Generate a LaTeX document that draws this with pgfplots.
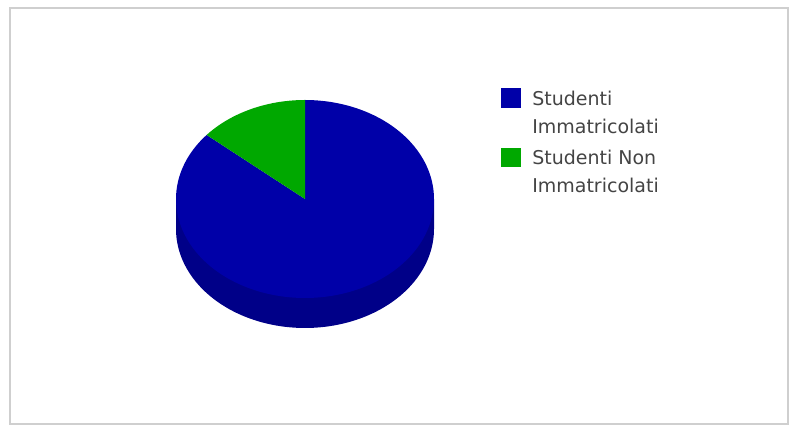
\documentclass[border=0pt]{standalone}
\usepackage{pgfplots}
\pgfplotsset{compat=1.18}
\usepackage{pgfplotstable}
\usepackage{fontspec}
\setmainfont{DejaVu Sans}
\definecolor{topblue}{HTML}{0000A8}
\definecolor{sideblue}{HTML}{000088}
\definecolor{sgreen}{HTML}{00A800}
\definecolor{txt}{HTML}{444444}
\definecolor{framec}{HTML}{CFCFCF}
\pgfplotstableread{
label value
Immatricolati 86.2
NonImmatricolati 13.8
}\piedata
\begin{document}
\begin{tikzpicture}
\pgfplotstablegetelem{0}{value}\of\piedata \let\va\pgfplotsretval
\pgfplotstablegetelem{1}{value}\of\piedata \let\vb\pgfplotsretval
\pgfmathsetmacro\angB{90+360*\vb/(\va+\vb)}
\begin{axis}[scale only axis, width=597.75pt, height=321pt,
  xmin=0, xmax=797, ymin=0, ymax=428, hide axis, clip=false]
% frame
\draw[framec, line width=1.2pt] (axis cs:10,420) rectangle (axis cs:788,4);
\path (axis cs:0,0) rectangle (axis cs:797,428);
% side of the pie (front part of the large slice)
\addplot[fill=sideblue, draw=none, domain=180:360, samples=120]
  ({305+129*cos(x)},{199+99*sin(x)}) -- (axis cs:434,229) -- (axis cs:176,229) -- cycle;
% top faces
\addplot[fill=topblue, draw=none, domain=\angB:450, samples=160]
  ({305+129*cos(x)},{229+99*sin(x)}) -- (axis cs:305,229) -- cycle;
\addplot[fill=sgreen, draw=none, domain=90:\angB, samples=40]
  ({305+129*cos(x)},{229+99*sin(x)}) -- (axis cs:305,229) -- cycle;
% legend
\fill[topblue] (axis cs:501,320) rectangle (axis cs:521,339.5);
\fill[sgreen] (axis cs:501,260.7) rectangle (axis cs:521,280);
\begin{scope}[every node/.style={anchor=base west, inner sep=0pt, text=txt, font=\fontsize{14.25}{17}\selectfont}]
\node at (axis cs:532,322) {Studenti};
\node at (axis cs:532,294) {Immatricolati};
\node at (axis cs:532,263) {Studenti Non};
\node at (axis cs:532,235) {Immatricolati};
\end{scope}
\end{axis}
\end{tikzpicture}
\end{document}
